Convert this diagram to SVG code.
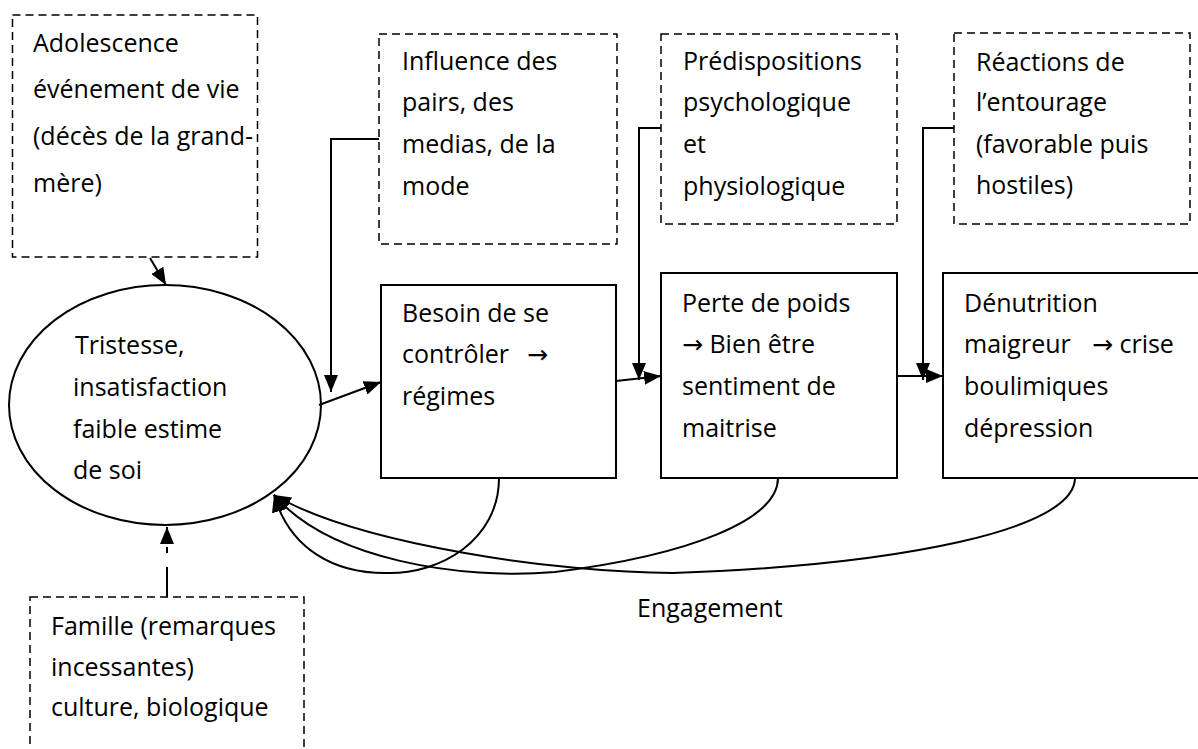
<svg xmlns="http://www.w3.org/2000/svg" width="1198" height="749" viewBox="0 0 1198 749">
<style>
  text { font-family: "Open Sans", "Liberation Sans", sans-serif; font-size: 25px; fill: #000; }
  .arr { font-family: "DejaVu Sans", sans-serif; font-size: 25px; }
  .dash { fill: #fff; stroke: #000; stroke-width: 1.5; stroke-dasharray: 8 5; }
  .solid { fill: #fff; stroke: #000; stroke-width: 2; }
  .conn { fill: none; stroke: #000; stroke-width: 2; }
</style>
<defs>
  <marker id="ah" markerUnits="userSpaceOnUse" markerWidth="18" markerHeight="14" refX="17" refY="7" orient="auto">
    <path d="M0,0 L17,7 L0,14 z" fill="#000"/>
  </marker>
</defs>
<rect width="1198" height="749" fill="#fff"/>

<g id="adolescence">
  <rect class="dash" x="12.5" y="15" width="245" height="242"/>
  <text x="33" y="52">Adolescence</text>
  <text x="33" y="98">événement de vie</text>
  <text x="33" y="145">(décès de la grand-</text>
  <text x="33" y="192">mère)</text>
</g>

<g id="influence">
  <rect class="dash" x="379" y="34" width="238" height="210"/>
  <text x="402" y="70">Influence des</text>
  <text x="402" y="111">pairs, des</text>
  <text x="402" y="153">medias, de la</text>
  <text x="402" y="195">mode</text>
</g>

<g id="predispositions">
  <rect class="dash" x="661" y="34" width="236" height="190"/>
  <text x="683" y="70">Prédispositions</text>
  <text x="683" y="111">psychologique</text>
  <text x="683" y="153">et</text>
  <text x="683" y="195">physiologique</text>
</g>

<g id="reactions">
  <rect class="dash" x="954" y="33" width="236" height="191"/>
  <text x="976" y="71">Réactions de</text>
  <text x="976" y="111">l’entourage</text>
  <text x="976" y="153">(favorable puis</text>
  <text x="976" y="194">hostiles)</text>
</g>

<g id="tristesse">
  <ellipse class="solid" cx="165" cy="405" rx="156" ry="120"/>
  <text x="75" y="354">Tristesse,</text>
  <text x="73" y="396">insatisfaction</text>
  <text x="73" y="438">faible estime</text>
  <text x="73" y="479">de soi</text>
</g>

<g id="besoin">
  <rect class="solid" x="381" y="285" width="235" height="193"/>
  <text x="402" y="322">Besoin de se</text>
  <text x="402" y="363">contrôler <tspan class="arr" x="527">→</tspan></text>
  <text x="402" y="405">régimes</text>
</g>

<g id="perte">
  <rect class="solid" x="661" y="273" width="236" height="205"/>
  <text x="682" y="312">Perte de poids</text>
  <text x="682" y="353"><tspan class="arr">→</tspan> Bien être</text>
  <text x="682" y="395">sentiment de</text>
  <text x="682" y="437">maitrise</text>
</g>

<g id="denutrition">
  <rect class="solid" x="943" y="273" width="270" height="205"/>
  <text x="964" y="312">Dénutrition</text>
  <text x="964" y="353">maigreur <tspan class="arr" x="1092">→</tspan> crise</text>
  <text x="964" y="395">boulimiques</text>
  <text x="964" y="437">dépression</text>
</g>

<g id="famille">
  <rect class="dash" x="30" y="597" width="274" height="170"/>
  <text x="51" y="635">Famille (remarques</text>
  <text x="51" y="676">incessantes)</text>
  <text x="51" y="716">culture, biologique</text>
</g>

<g id="label-engagement">
  <text x="637" y="617">Engagement</text>
</g>

<g id="connectors">
  <path class="conn" d="M150,258 L166,285" stroke-width="3" marker-end="url(#ah)"/>
  <path class="conn" d="M167,597 L167,567 M167,553 L167,547" stroke-width="3"/>
  <path class="conn" d="M167,541 L167,527" stroke-width="0.1" marker-end="url(#ah)"/>
  <path class="conn" d="M319,405 L381,382" marker-end="url(#ah)"/>
  <path class="conn" d="M379,139 H331 V392" marker-end="url(#ah)"/>
  <path class="conn" d="M616,381 L661,376" marker-end="url(#ah)"/>
  <path class="conn" d="M661,128 H639 V380" marker-end="url(#ah)"/>
  <path class="conn" d="M897,376 L943,376" marker-end="url(#ah)"/>
  <path class="conn" d="M954,128 H923 V380" marker-end="url(#ah)"/>
  <path class="conn" d="M499,478 C499,540 440,575 385,573 C335,573 290,550 274,495" marker-end="url(#ah)"/>
  <path class="conn" d="M778,478 C778,520 690,555 555,572 C460,580 330,560 274,495" marker-end="url(#ah)"/>
  <path class="conn" d="M1075,478 C1075,530 900,565 673,573 C560,573 360,545 274,495" marker-end="url(#ah)"/>
</g>
</svg>
